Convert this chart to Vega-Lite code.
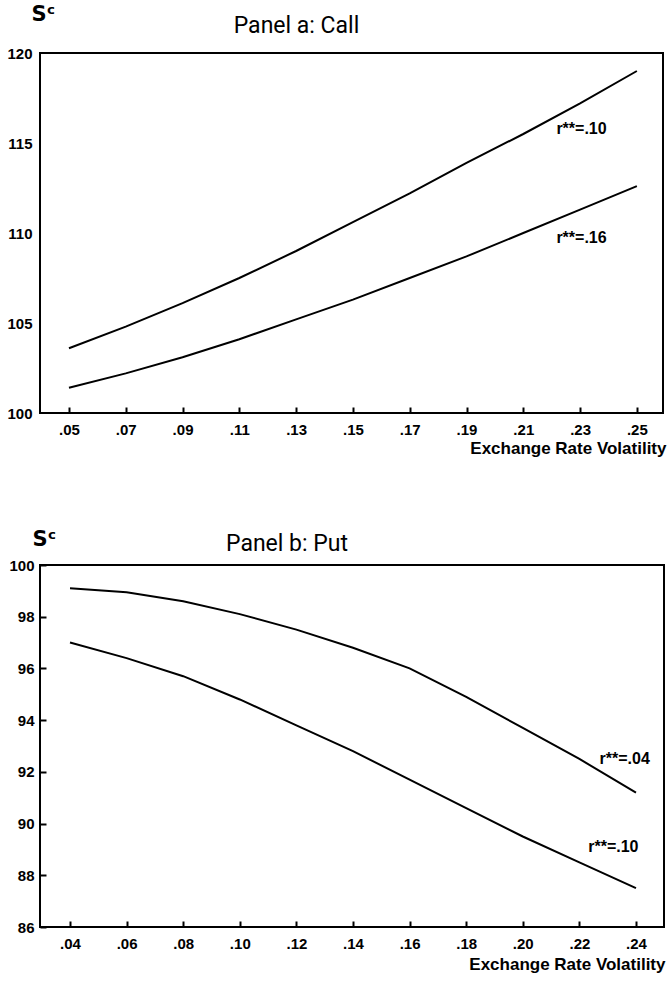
{
  "$schema": "https://vega.github.io/schema/vega-lite/v6.json",
  "background": "white",
  "padding": {"left": 5, "top": 2, "right": 0, "bottom": 4},
  "spacing": 70,
  "align": "none",
  "config": {
    "view": {"stroke": "black", "strokeWidth": 2},
    "axis": {"grid": false, "domain": false, "labelFont": "Liberation Sans", "labelFontWeight": "bold", "labelFontSize": 15, "labelColor": "black", "tickColor": "black", "titleColor": "black"},
    "title": {"font": "Roboto", "fontWeight": "normal", "fontSize": 23, "color": "black"}
  },
  "vconcat": [
    {
      "width": 623,
      "height": 360,
      "title": {"text": "Panel a: Call", "anchor": "middle", "dx": -55, "offset": -35},
      "layer": [
        {
          "data": {"values": [
            {"vol": 0.05, "S": 103.6, "r": "r10"}, {"vol": 0.07, "S": 104.8, "r": "r10"}, {"vol": 0.09, "S": 106.1, "r": "r10"}, {"vol": 0.11, "S": 107.5, "r": "r10"}, {"vol": 0.13, "S": 109.0, "r": "r10"}, {"vol": 0.15, "S": 110.6, "r": "r10"}, {"vol": 0.17, "S": 112.2, "r": "r10"}, {"vol": 0.19, "S": 113.9, "r": "r10"}, {"vol": 0.21, "S": 115.5, "r": "r10"}, {"vol": 0.23, "S": 117.2, "r": "r10"}, {"vol": 0.25, "S": 119.0, "r": "r10"},
            {"vol": 0.05, "S": 101.4, "r": "r16"}, {"vol": 0.07, "S": 102.2, "r": "r16"}, {"vol": 0.09, "S": 103.1, "r": "r16"}, {"vol": 0.11, "S": 104.1, "r": "r16"}, {"vol": 0.13, "S": 105.2, "r": "r16"}, {"vol": 0.15, "S": 106.3, "r": "r16"}, {"vol": 0.17, "S": 107.5, "r": "r16"}, {"vol": 0.19, "S": 108.7, "r": "r16"}, {"vol": 0.21, "S": 110.0, "r": "r16"}, {"vol": 0.23, "S": 111.3, "r": "r16"}, {"vol": 0.25, "S": 112.6, "r": "r16"}
          ]},
          "mark": {"type": "line", "color": "black", "strokeWidth": 2, "clip": true},
          "encoding": {
            "x": {"field": "vol", "type": "quantitative", "scale": {"domain": [0.0398, 0.2592], "nice": false, "zero": false},
              "axis": {"values": [0.05, 0.07, 0.09, 0.11, 0.13, 0.15, 0.17, 0.19, 0.21, 0.23, 0.25], "labelExpr": "substring(format(datum.value, '.2f'), 1)", "tickSize": -6, "tickWidth": 2, "labelPadding": 15, "title": "Exchange Rate Volatility", "titleFont": "Liberation Sans", "titleFontWeight": "bold", "titleFontSize": 17, "titleAnchor": "end", "titleAlign": "right", "titleX": 626, "titlePadding": 3}},
            "y": {"field": "S", "type": "quantitative", "scale": {"domain": [100, 120], "nice": false, "zero": false},
              "axis": {"values": [100, 105, 110, 115, 120], "ticks": false, "labelPadding": 8, "title": "Sᶜ", "titleFont": "DejaVu Sans", "titleFontWeight": "bold", "titleFontSize": 21, "titleAngle": 0, "titleAlign": "left", "titleBaseline": "bottom", "titleX": -9, "titleY": -29}},
            "detail": {"field": "r"}
          }
        },
        {
          "data": {"values": [
            {"vol": 0.2305, "S": 115.8, "label": "r**=.10"},
            {"vol": 0.2305, "S": 109.7, "label": "r**=.16"}
          ]},
          "mark": {"type": "text", "font": "Liberation Sans", "fontWeight": "bold", "fontSize": 16, "color": "black", "align": "center", "baseline": "middle"},
          "encoding": {
            "x": {"field": "vol", "type": "quantitative"},
            "y": {"field": "S", "type": "quantitative"},
            "text": {"field": "label"}
          }
        }
      ]
    },
    {
      "width": 624,
      "height": 362,
      "title": {"text": "Panel b: Put", "anchor": "middle", "dx": -65, "offset": -28},
      "layer": [
        {
          "data": {"values": [
            {"vol": 0.04, "S": 99.1, "r": "r04"}, {"vol": 0.06, "S": 98.95, "r": "r04"}, {"vol": 0.08, "S": 98.6, "r": "r04"}, {"vol": 0.10, "S": 98.1, "r": "r04"}, {"vol": 0.12, "S": 97.5, "r": "r04"}, {"vol": 0.14, "S": 96.8, "r": "r04"}, {"vol": 0.16, "S": 96.0, "r": "r04"}, {"vol": 0.18, "S": 94.9, "r": "r04"}, {"vol": 0.20, "S": 93.7, "r": "r04"}, {"vol": 0.22, "S": 92.5, "r": "r04"}, {"vol": 0.24, "S": 91.2, "r": "r04"},
            {"vol": 0.04, "S": 97.0, "r": "r10"}, {"vol": 0.06, "S": 96.4, "r": "r10"}, {"vol": 0.08, "S": 95.7, "r": "r10"}, {"vol": 0.10, "S": 94.8, "r": "r10"}, {"vol": 0.12, "S": 93.8, "r": "r10"}, {"vol": 0.14, "S": 92.8, "r": "r10"}, {"vol": 0.16, "S": 91.7, "r": "r10"}, {"vol": 0.18, "S": 90.6, "r": "r10"}, {"vol": 0.20, "S": 89.5, "r": "r10"}, {"vol": 0.22, "S": 88.5, "r": "r10"}, {"vol": 0.24, "S": 87.5, "r": "r10"}
          ]},
          "mark": {"type": "line", "color": "black", "strokeWidth": 2, "clip": true},
          "encoding": {
            "x": {"field": "vol", "type": "quantitative", "scale": {"domain": [0.0294, 0.2499], "nice": false, "zero": false},
              "axis": {"values": [0.04, 0.06, 0.08, 0.10, 0.12, 0.14, 0.16, 0.18, 0.20, 0.22, 0.24], "labelExpr": "substring(format(datum.value, '.2f'), 1)", "tickSize": -6, "tickWidth": 2, "labelPadding": 15, "title": "Exchange Rate Volatility", "titleFont": "Liberation Sans", "titleFontWeight": "bold", "titleFontSize": 17, "titleAnchor": "end", "titleAlign": "right", "titleX": 625, "titlePadding": 5}},
            "y": {"field": "S", "type": "quantitative", "scale": {"domain": [86, 100], "nice": false, "zero": false},
              "axis": {"values": [86, 88, 90, 92, 94, 96, 98, 100], "tickSize": -6, "tickWidth": 2, "labelPadding": 12, "title": "Sᶜ", "titleFont": "DejaVu Sans", "titleFontWeight": "bold", "titleFontSize": 21, "titleAngle": 0, "titleAlign": "left", "titleBaseline": "bottom", "titleX": -8, "titleY": -16}},
            "detail": {"field": "r"}
          }
        },
        {
          "data": {"values": [
            {"vol": 0.236, "S": 92.5, "label": "r**=.04"},
            {"vol": 0.232, "S": 89.1, "label": "r**=.10"}
          ]},
          "mark": {"type": "text", "font": "Liberation Sans", "fontWeight": "bold", "fontSize": 16, "color": "black", "align": "center", "baseline": "middle"},
          "encoding": {
            "x": {"field": "vol", "type": "quantitative"},
            "y": {"field": "S", "type": "quantitative"},
            "text": {"field": "label"}
          }
        }
      ]
    }
  ]
}
